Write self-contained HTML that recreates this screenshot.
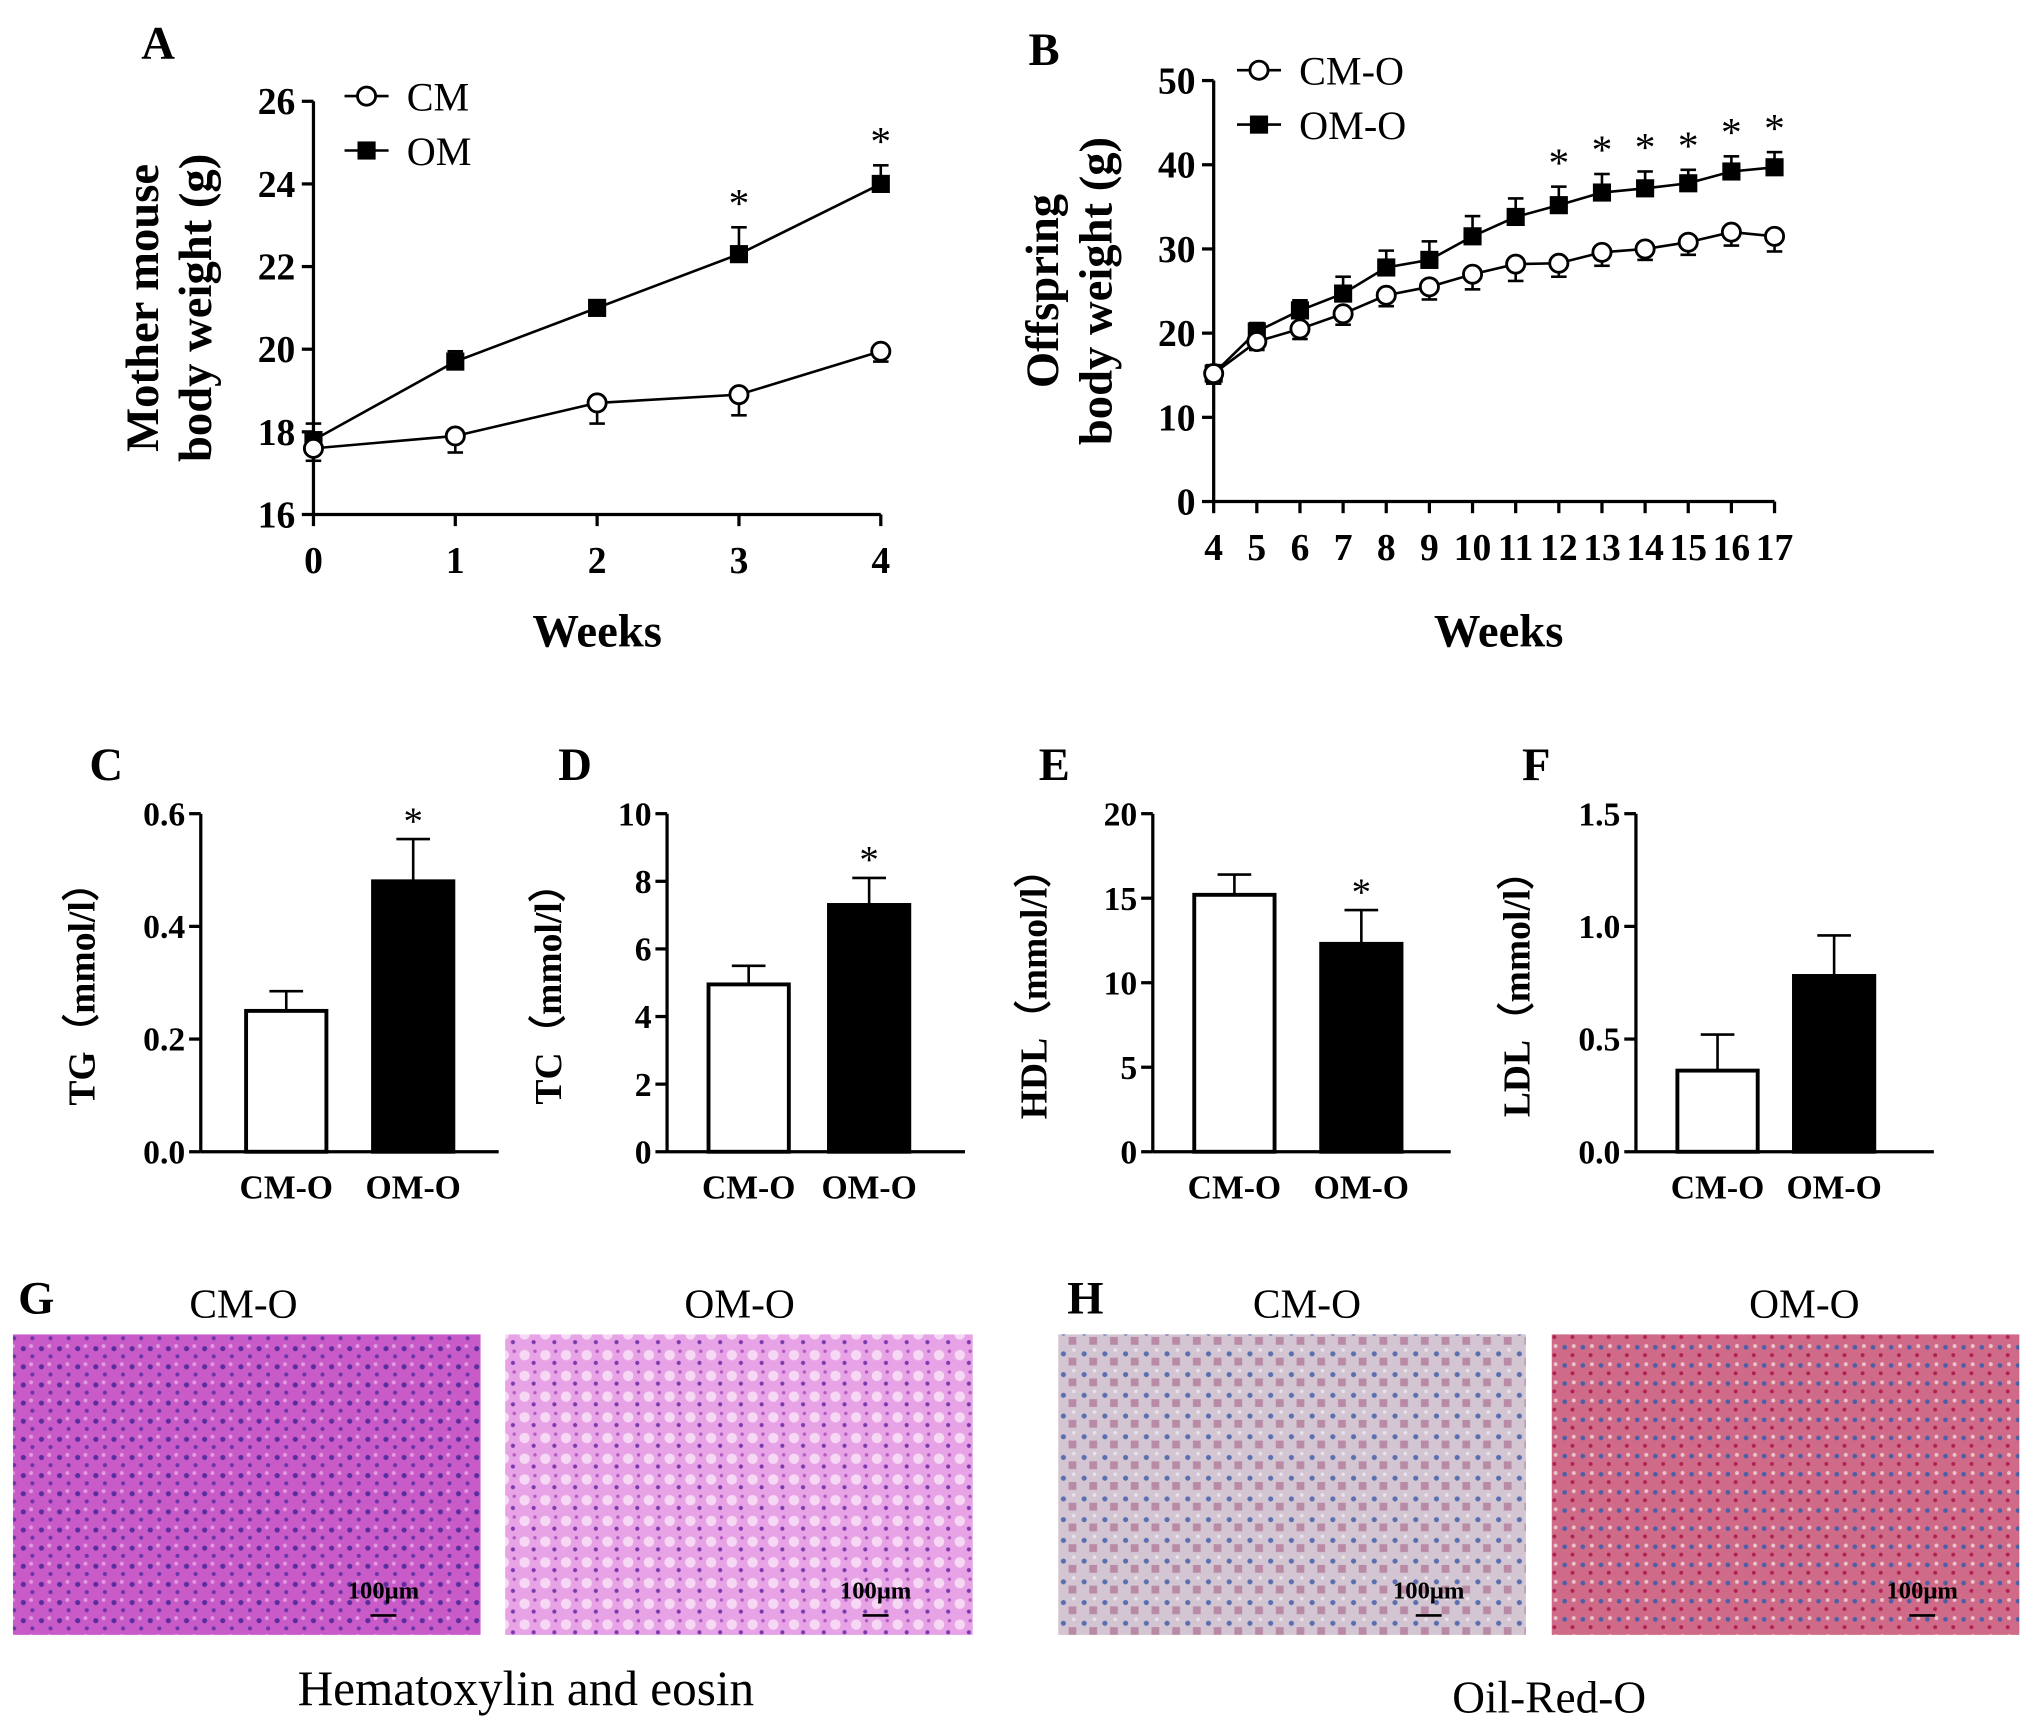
<!DOCTYPE html>
<html><head><meta charset="utf-8"><style>
html,body{margin:0;padding:0;background:#fff}
svg{display:block}
text{font-family:"Liberation Serif",serif;fill:#000}
</style></head><body>
<svg id="fig" xmlns="http://www.w3.org/2000/svg" width="2031" height="1731" viewBox="0 0 1568 1336">
<defs>
<pattern id="heL" width="14" height="14" patternUnits="userSpaceOnUse"><rect width="14" height="14" fill="#c95bc9"/><circle cx="4" cy="5" r="2" fill="#5a2d9e"/><circle cx="11" cy="11" r="1.6" fill="#6b35a8"/><circle cx="10" cy="3" r="1.5" fill="#e39ae0"/></pattern>
<pattern id="heR" width="16" height="16" patternUnits="userSpaceOnUse"><rect width="16" height="16" fill="#e7a3e6"/><circle cx="5" cy="6" r="4" fill="#f6d8f4"/><circle cx="12" cy="12" r="1.6" fill="#7a3aad"/><circle cx="13" cy="3" r="1.3" fill="#b05ac2"/></pattern>
<pattern id="orL" width="16" height="16" patternUnits="userSpaceOnUse"><rect width="16" height="16" fill="#d3c5d2"/><circle cx="5" cy="5" r="2" fill="#5a6fb0"/><rect x="9" y="8" width="6" height="6" fill="#b98aa6"/><circle cx="13" cy="2" r="1.4" fill="#e8e2ea"/></pattern>
<pattern id="orR" width="14" height="14" patternUnits="userSpaceOnUse"><rect width="14" height="14" fill="#cf6b88"/><circle cx="4" cy="4" r="1.8" fill="#4a5fa8"/><circle cx="10" cy="10" r="1.5" fill="#b02050"/><circle cx="11" cy="3" r="1.5" fill="#ecc4cc"/></pattern>
</defs>
<g id="root"></g>
</svg>
<script>
// Panel A data
const aWeeks=[0,1,2,3,4];
const aCM=[17.6,17.9,18.7,18.9,19.95];
const aCMerr=[0.3,0.4,0.5,0.5,0.25];
const aOM=[17.8,19.7,21.0,22.3,24.0];
const aOMerr=[0.4,0.25,0.1,0.65,0.45];
const aStars=[3,4];
const aTicks=[16,18,20,22,24,26];
// Panel B data
const bWeeks=[4,5,6,7,8,9,10,11,12,13,14,15,16,17];
const bCM=[15.2,19.0,20.5,22.3,24.5,25.5,27.0,28.2,28.3,29.6,30.0,30.8,32.0,31.5];
const bCMerr=[1.2,1.0,1.2,1.3,1.3,1.5,1.8,2.0,1.6,1.6,1.3,1.5,1.6,1.8];
const bOM=[15.2,20.2,22.7,24.7,27.8,28.7,31.5,33.8,35.2,36.7,37.2,37.8,39.2,39.7];
const bOMerr=[1.0,1.0,1.2,2.0,2.0,2.2,2.4,2.2,2.2,2.2,2.0,1.6,1.8,1.8];
const bStars=[12,13,14,15,16,17];
const bTicks=[0,10,20,30,40,50];
// Bar panels data
const barGroups=["CM-O","OM-O"];
const tgVals=[0.25,0.48], tgErr=[0.035,0.075], tgTicks=["0.0","0.2","0.4","0.6"];
const tcVals=[4.95,7.3], tcErr=[0.55,0.8], tcTicks=["0","2","4","6","8","10"];
const hdlVals=[15.2,12.3], hdlErr=[1.2,2.0], hdlTicks=["0","5","10","15","20"];
const ldlVals=[0.36,0.78], ldlErr=[0.16,0.18], ldlTicks=["0.0","0.5","1.0","1.5"];

const NS="http://www.w3.org/2000/svg";
const root=document.getElementById('root');
function el(tag,attrs,parent,txt){const e=document.createElementNS(NS,tag);for(const k in attrs)e.setAttribute(k,attrs[k]);if(txt!==undefined)e.textContent=txt;(parent||root).appendChild(e);return e;}
function grp(name,parent){const g=el('g',{},parent);


return g;}
function txt(parent,name,x,y,s,size,opts){opts=opts||{};const t=el('text',Object.assign({x:x,y:y,'font-size':size,'font-weight':opts.w||'bold','text-anchor':opts.a||'middle'},opts.extra||{}),parent,s);


return t;}

function lineChart(cfg){
  const g=grp(cfg.name);
  const sx=v=>cfg.x0+(v-cfg.xmin)/(cfg.xmax-cfg.xmin)*(cfg.x1-cfg.x0);
  const sy=v=>cfg.y0-(v-cfg.ymin)/(cfg.ymax-cfg.ymin)*(cfg.y0-cfg.y1);
  const ax=grp('axes',g);
  el('line',{x1:cfg.x0,y1:cfg.y0,x2:cfg.x0,y2:cfg.y1,stroke:'#000','stroke-width':2.5},ax);
  el('line',{x1:cfg.x0,y1:cfg.y0,x2:sx(cfg.xmax),y2:cfg.y0,stroke:'#000','stroke-width':2.5},ax);
  cfg.yticks.forEach(t=>{el('line',{x1:cfg.x0-9,y1:sy(t),x2:cfg.x0,y2:sy(t),stroke:'#000','stroke-width':2.5},ax);
    txt(ax,'y-tick-label',cfg.x0-14,sy(t)+10,String(t),29,{a:'end'});});
  cfg.xs.forEach(t=>{el('line',{x1:sx(t),y1:cfg.y0,x2:sx(t),y2:cfg.y0+9,stroke:'#000','stroke-width':2.5},ax);
    txt(ax,'x-tick-label',sx(t),cfg.y0+45,String(t),29);});
  txt(g,'x-axis-title',cfg.xtitleX,cfg.xtitleY,'Weeks',36);
  const yt=grp('y-axis-title',g);
  cfg.ytitle.forEach((s,i)=>txt(yt,'y-axis-title-line',0,0,s,36,{extra:{transform:`translate(${cfg.ytx[i]},${(cfg.y0+cfg.y1)/2}) rotate(-90)`}}));
  [[cfg.s2,cfg.e2,'filled'],[cfg.s1,cfg.e1,'open']].forEach(([ser,err,kind])=>{
    const sg=grp('series-'+kind,g);
    el('polyline',{points:cfg.xs.map((x,i)=>sx(x)+','+sy(ser[i])).join(' '),fill:'none',stroke:'#000','stroke-width':2},sg);
    cfg.xs.forEach((x,i)=>{const cx=sx(x),cy=sy(ser[i]);
      const dir=kind==='filled'?1:-1;
      const ey=sy(ser[i]+dir*err[i]);
      el('line',{x1:cx,y1:cy,x2:cx,y2:ey,stroke:'#000','stroke-width':2},sg);
      el('line',{x1:cx-6,y1:ey,x2:cx+6,y2:ey,stroke:'#000','stroke-width':2},sg);
      let m;
      if(kind==='filled')m=el('rect',{x:cx-7,y:cy-7,width:14,height:14,fill:'#000'},sg);
      else m=el('circle',{cx:cx,cy:cy,r:7,fill:'#fff',stroke:'#000','stroke-width':2.2},sg);
      
      
    });
  });
  cfg.stars.forEach(w=>{const i=cfg.xs.indexOf(w);txt(g,'significance-star',sx(w),sy(cfg.s2[i]+cfg.e2[i])-8,'*',32,{w:'normal'});});
  const lg=grp('legend',g);
  cfg.legend.forEach((s,i)=>{const y=cfg.ly+i*42;
    el('line',{x1:cfg.lx,y1:y,x2:cfg.lx+34,y2:y,stroke:'#000','stroke-width':2},lg);
    if(i===0)el('circle',{cx:cfg.lx+17,cy:y,r:7,fill:'#fff',stroke:'#000','stroke-width':2.2},lg);
    else el('rect',{x:cfg.lx+10,y:y-7,width:14,height:14,fill:'#000'},lg);
    txt(lg,'legend-entry',cfg.lx+48,y+11,s,31,{w:'normal',a:'start'});});
}
lineChart({name:'panel-a-chart',x0:242,x1:680,y0:397,y1:78,xmin:0,xmax:4,ymin:16,ymax:26,xs:aWeeks,s1:aCM,e1:aCMerr,s2:aOM,e2:aOMerr,stars:aStars,yticks:aTicks,
  ytitle:['Mother mouse','body weight (g)'],ytx:[122,163],xtitleX:461,xtitleY:499,legend:['CM','OM'],lx:266,ly:74});
lineChart({name:'panel-b-chart',x0:937,x1:1370,y0:387,y1:62,xmin:4,xmax:17,ymin:0,ymax:50,xs:bWeeks,s1:bCM,e1:bCMerr,s2:bOM,e2:bOMerr,stars:bStars,yticks:bTicks,
  ytitle:['Offspring','body weight (g)'],ytx:[817,858],xtitleX:1157,xtitleY:499,legend:['CM-O','OM-O'],lx:955,ly:54});

function barChart(name,ax0,bx,vals,errs,ticks,ytitle,stars){
  const g=grp(name);
  const y0=889,y1=628,ymax=+ticks[ticks.length-1];
  const sy=v=>y0-v/ymax*(y0-y1);
  el('line',{x1:ax0,y1:y0,x2:ax0,y2:y1,stroke:'#000','stroke-width':2.5},g);
  el('line',{x1:ax0,y1:y0,x2:ax0+230,y2:y0,stroke:'#000','stroke-width':2.5},g);
  ticks.forEach(t=>{el('line',{x1:ax0-9,y1:sy(+t),x2:ax0,y2:sy(+t),stroke:'#000','stroke-width':2.5},g);
    txt(g,'y-tick-label',ax0-12,sy(+t)+9,t,26,{a:'end'});});
  barGroups.forEach((c,i)=>{const x=bx[i],w=62,top=sy(vals[i]),ey=sy(vals[i]+errs[i]);
    const b=el('rect',{x:x,y:top,width:w,height:y0-top,fill:i?'#000':'#fff',stroke:'#000','stroke-width':3},g);
    
    
    el('line',{x1:x+w/2,y1:top,x2:x+w/2,y2:ey,stroke:'#000','stroke-width':2},g);
    el('line',{x1:x+w/2-13,y1:ey,x2:x+w/2+13,y2:ey,stroke:'#000','stroke-width':2},g);
    txt(g,'x-tick-label',x+w/2,925,c,26);
    if(stars&&i===1)txt(g,'significance-star',x+w/2,ey-4,'*',30,{w:'normal'});
  });
  txt(g,'y-axis-title',0,0,ytitle,29,{extra:{transform:`translate(${ax0-82},760) rotate(-90)`}});
}
barChart('panel-c-chart',155,[190,288],tgVals,tgErr,tgTicks,'TG（mmol/l）',true);
barChart('panel-d-chart',515,[547,640],tcVals,tcErr,tcTicks,'TC（mmol/l）',true);
barChart('panel-e-chart',890,[922,1020],hdlVals,hdlErr,hdlTicks,'HDL（mmol/l）',true);
barChart('panel-f-chart',1263,[1295,1385],ldlVals,ldlErr,ldlTicks,'LDL（mmol/l）',false);

// panel letters
[['A',122,35],['B',806,40],['C',82,592],['D',444,592],['E',814,592],['F',1186,592],['G',28,1004],['H',838,1004]].forEach(([s,x,y])=>txt(root,'panel-label-'+s.toLowerCase(),x,y+10,s,36));

// histology
const hist=grp('histology-panels');
[[10,'url(#heL)','CM-O',188],[390,'url(#heR)','OM-O',571],[817,'url(#orL)','CM-O',1009],[1198,'url(#orR)','OM-O',1393]].forEach(([x,f,lab,lx])=>{
  const r=el('rect',{x:x,y:1030,width:361,height:232,fill:f},hist);
  
  
  txt(hist,'micrograph-title',lx,1017,lab,32,{w:'normal'});
  txt(hist,'scale-bar-label',x+286,1234,'100μm',19,{extra:{'font-family':'Liberation Sans, sans-serif'}});
  el('line',{x1:x+276,y1:1247,x2:x+296,y2:1247,stroke:'#000','stroke-width':2},hist);
});
txt(hist,'stain-label-he',406,1316,'Hematoxylin and eosin',38,{w:'normal'});
txt(hist,'stain-label-oro',1196,1322,'Oil-Red-O',35,{w:'normal'});
</script>
</body></html>
